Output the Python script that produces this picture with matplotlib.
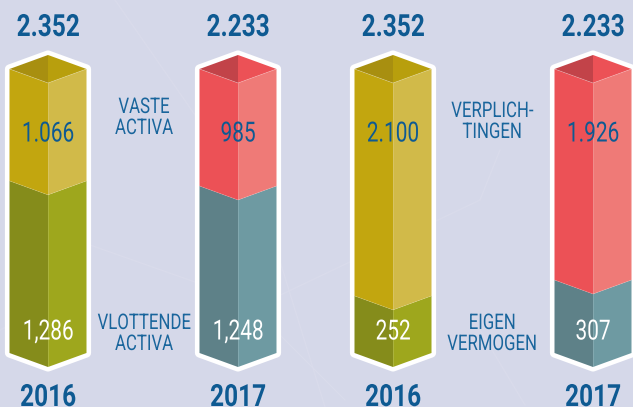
import matplotlib
matplotlib.use("Agg")
import matplotlib.pyplot as plt
from matplotlib.patches import Polygon
from matplotlib.patheffects import AbstractPathEffect
from matplotlib.transforms import Affine2D

# data
years = ["2016", "2017", "2016", "2017"]
totals = ["2.352", "2.233", "2.352", "2.233"]
upper_labels = ["1.066", "985", "2.100", "1.926"]
lower_labels = ["1,286", "1,248", "252", "307"]
# share of the column taken by the lower block, as drawn in the picture
lower_share = [0.606, 0.588, 0.201, 0.257]
upper_names = ["VASTE\nACTIVA", "VERPLICH-\nTINGEN"]
lower_names = ["VLOTTENDE\nACTIVA", "EIGEN\nVERMOGEN"]

# layout
centers = [48, 238, 393, 593]
half_w = 38.5
name_x = [144, 492]
name_y = [118, 122]
px_top, px_bottom = 69, 353
drop = 14 / (px_bottom - px_top)

BG = "#D5D8E9"
BLUE = "#0E5A92"
YELLOW = ("#C2A60F", "#D1BA49")
YELLOW_TOP = ("#A88F10", "#B89F0D")
OLIVE = ("#858C1B", "#9EA71D")
RED = ("#EC5156", "#EF7A77")
RED_TOP = ("#C24349", "#EC5156")
TEAL = ("#5E8188", "#6E9AA2")
styles = [(YELLOW, YELLOW_TOP, OLIVE), (RED, RED_TOP, TEAL),
          (YELLOW, YELLOW_TOP, OLIVE), (RED, RED_TOP, TEAL)]

plt.rcParams["font.family"] = ["Roboto", "DejaVu Sans"]


class Narrow(AbstractPathEffect):
    # the reference font is condensed, none is installed: squeeze each line around its middle
    def __init__(self, k):
        super().__init__()
        self.k = k

    def draw_path(self, renderer, gc, tpath, affine, rgbFace=None):
        box = tpath.get_extents()
        xc = (box.x0 + box.x1) / 2
        squeeze = Affine2D().translate(-xc, 0).scale(self.k, 1).translate(xc, 0)
        renderer.draw_path(gc, tpath, squeeze + affine, rgbFace)


fig = plt.figure(figsize=(6.33, 4.07), dpi=100, facecolor=BG)
ax = fig.add_axes([0, 0, 1, 1])
ax.set_facecolor(BG)
ax.set_xlim(0, 633)
# y axis runs in column share: 0 at the column foot, 1 at its top
span = px_bottom - px_top
ax.set_ylim((px_bottom - 407) / span, 1 + px_top / span)
ax.axis("off")


def py(p):
    return (px_bottom - p) / span


# faint lines in the background
bg_lines = [((115, 0), (195, 115)), ((90, 245), (195, 282)), ((275, 245), (325, 407)),
            ((270, 300), (480, 200)), ((0, 330), (60, 300)), ((480, 200), (500, 150)),
            ((280, 335), (345, 400)), ((525, 405), (480, 330))]
for a, b in bg_lines:
    ax.plot([a[0], b[0]], [py(a[1]), py(b[1])], color="#D9DBEB", lw=1.0, zorder=0)

for c, share, total, up, low, year, st in zip(centers, lower_share, totals, upper_labels,
                                              lower_labels, years, styles):
    side, top_face, foot = st
    l, r = c - half_w, c + half_w
    # white outline
    ax.add_patch(Polygon([(l, 1), (c, 1 + drop), (r, 1), (r, 0), (c, -drop), (l, 0)],
                         closed=True, fc="white", ec="white", lw=6.6, joinstyle="round", zorder=1))
    # lower block
    ax.add_patch(Polygon([(l, share), (c, share - drop), (c, -drop), (l, 0)], closed=True,
                         fc=foot[0], ec="none", zorder=2))
    ax.add_patch(Polygon([(c, share - drop), (r, share), (r, 0), (c, -drop)], closed=True,
                         fc=foot[1], ec="none", zorder=2))
    # upper block
    ax.add_patch(Polygon([(l, 1), (c, 1 - drop), (c, share - drop), (l, share)], closed=True,
                         fc=side[0], ec="none", zorder=2))
    ax.add_patch(Polygon([(c, 1 - drop), (r, 1), (r, share), (c, share - drop)], closed=True,
                         fc=side[1], ec="none", zorder=2))
    # top face
    ax.add_patch(Polygon([(l, 1), (c, 1 + drop), (c, 1 - drop)], closed=True,
                         fc=top_face[0], ec="none", zorder=2))
    ax.add_patch(Polygon([(c, 1 + drop), (r, 1), (c, 1 - drop)], closed=True,
                         fc=top_face[1], ec="none", zorder=2))
    # seams
    ax.plot([c, c], [-drop, 1 - drop], color="white", alpha=0.2, lw=0.5, zorder=3)
    ax.plot([l, c, r], [1, 1 - drop, 1], color="white", alpha=0.3, lw=0.5, zorder=3)
    ax.plot([l, c, r], [share, share - drop, share], color="white", alpha=0.15, lw=0.5, zorder=3)

    ax.text(c, py(27), total, color=BLUE, fontsize=22, fontweight="bold", ha="center",
            va="center", zorder=4, path_effects=[Narrow(0.8)])
    ax.text(c, py(134), up, color=BLUE, fontsize=20, ha="center",
            va="center", zorder=4, path_effects=[Narrow(0.75)])
    ax.text(c, py(332), low, color="white", fontsize=20, ha="center",
            va="center", zorder=4, path_effects=[Narrow(0.75)])
    ax.text(c, py(397), year, color=BLUE, fontsize=22, fontweight="bold", ha="center",
            va="center", zorder=4, path_effects=[Narrow(0.8)])

for x, y, up, low in zip(name_x, name_y, upper_names, lower_names):
    ax.text(x, py(y), up, color="#19659C", fontsize=15.5, ha="center",
            va="center", linespacing=1.0, zorder=4, path_effects=[Narrow(0.78)])
    ax.text(x, py(334), low, color="#19659C", fontsize=15.5, ha="center",
            va="center", linespacing=1.0, zorder=4, path_effects=[Narrow(0.78)])

fig.savefig("out.png", dpi=100, facecolor=BG)
